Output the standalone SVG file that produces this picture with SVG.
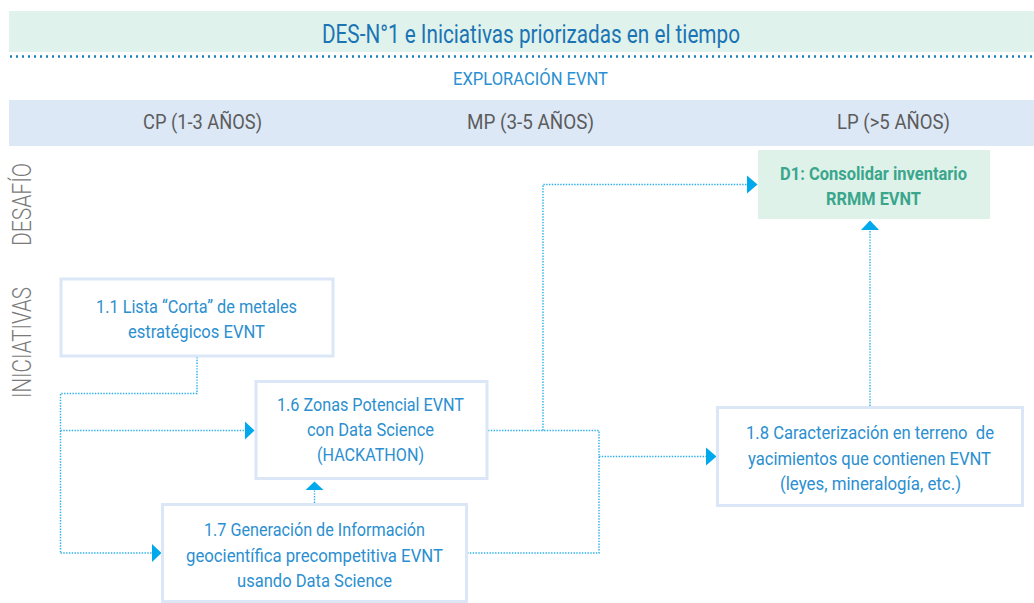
<svg xmlns="http://www.w3.org/2000/svg" width="1034" height="603" viewBox="0 0 1034 603">
  <style>
    text { font-family: Roboto, "Liberation Sans", sans-serif; text-anchor: middle; }
    .title { font-size: 25.5px; fill: #1b74b4; }
    .sub { font-size: 18px; fill: #2a90d2; }
    .term { font-size: 20px; fill: #5c5c5c; }
    .side { font-size: 26px; fill: #7a7a7a; font-weight: 300; }
    .box { fill: #ffffff; stroke: #dbe7f6; stroke-width: 3; }
    .btxt { font-size: 18.5px; fill: #2b8fd0; }
    .goal { fill: #dff2ea; }
    .gtxt { font-size: 18.5px; fill: #3aa68c; font-weight: 700; }
    .link { fill: none; stroke: #2ab0e8; stroke-width: 1.4; stroke-dasharray: 1.4 1.4; }
    .head { fill: #00a8ec; }
  </style>

  <!-- title band -->
  <g id="header">
    <rect x="9" y="11" width="1025" height="41" fill="#dff2ec"/>
    <text class="title" x="531" y="43" textLength="418" lengthAdjust="spacingAndGlyphs">DES-N°1 e Iniciativas priorizadas en el tiempo</text>
    <line x1="10" y1="56.5" x2="1034" y2="56.5" stroke="#1a80c0" stroke-width="2.4" stroke-dasharray="2 4"/>
    <text class="sub" x="530.5" y="85" textLength="155" lengthAdjust="spacingAndGlyphs">EXPLORACIÓN EVNT</text>
  </g>

  <!-- time horizon band -->
  <g id="horizons">
    <rect x="9" y="100" width="1025" height="46" fill="#dce8f6"/>
    <text class="term" x="202.5" y="129" textLength="119" lengthAdjust="spacingAndGlyphs">CP (1-3 AÑOS)</text>
    <text class="term" x="530.5" y="129" textLength="127" lengthAdjust="spacingAndGlyphs">MP (3-5 AÑOS)</text>
    <text class="term" x="893.5" y="129" textLength="113" lengthAdjust="spacingAndGlyphs">LP (&gt;5 AÑOS)</text>
  </g>

  <!-- row labels -->
  <g id="row-labels">
    <text class="side" transform="translate(31 204.5) rotate(-90)" textLength="83" lengthAdjust="spacingAndGlyphs">DESAFÍO</text>
    <text class="side" transform="translate(31 342.5) rotate(-90)" textLength="111" lengthAdjust="spacingAndGlyphs">INICIATIVAS</text>
  </g>

  <!-- connectors -->
  <g id="connectors">
    <!-- 1.1 to 1.6 and 1.7 -->
    <path class="link" d="M197 357 V393.5 H60.5 V553"/>
    <path class="link" d="M60.5 430.5 H246"/>
    <path class="link" d="M60.5 553 H153"/>
    <!-- 1.7 to 1.6 -->
    <path class="link" d="M314.5 503 V489"/>
    <!-- 1.6 / 1.7 to D1 and 1.8 -->
    <path class="link" d="M488 430.5 H599 V553 H468"/>
    <path class="link" d="M543 430.5 V184.5 H748"/>
    <path class="link" d="M599 456.5 H707"/>
    <!-- 1.8 to D1 -->
    <path class="link" d="M870 406 V229"/>
    <polygon class="head" points="245,421.5 254.5,430.5 245,439.5"/>
    <polygon class="head" points="152,544 161.5,553 152,562"/>
    <polygon class="head" points="305.5,490 314.5,481.5 323.5,490"/>
    <polygon class="head" points="747,175.5 757.5,184.5 747,193.5"/>
    <polygon class="head" points="706,447.5 716.5,456.5 706,465.5"/>
    <polygon class="head" points="861,230 870,220.5 879,230"/>
  </g>

  <!-- challenge -->
  <g id="d1">
    <rect class="goal" x="758" y="150" width="232" height="69"/>
    <text class="gtxt" x="873.5" y="180" textLength="187" lengthAdjust="spacingAndGlyphs">D1: Consolidar inventario</text>
    <text class="gtxt" x="873.5" y="205" textLength="95" lengthAdjust="spacingAndGlyphs">RRMM EVNT</text>
  </g>

  <!-- initiatives -->
  <g id="i11">
    <rect class="box" x="61" y="279" width="272" height="77"/>
    <text class="btxt" x="196.5" y="313" textLength="201" lengthAdjust="spacingAndGlyphs">1.1 Lista “Corta” de metales</text>
    <text class="btxt" x="196.5" y="338" textLength="137" lengthAdjust="spacingAndGlyphs">estratégicos EVNT</text>
  </g>

  <g id="i16">
    <rect class="box" x="256" y="381.5" width="231" height="97"/>
    <text class="btxt" x="370.5" y="411" textLength="187" lengthAdjust="spacingAndGlyphs">1.6 Zonas Potencial EVNT</text>
    <text class="btxt" x="370.5" y="436" textLength="127" lengthAdjust="spacingAndGlyphs">con Data Science</text>
    <text class="btxt" x="370.5" y="461" textLength="107" lengthAdjust="spacingAndGlyphs">(HACKATHON)</text>
  </g>

  <g id="i17">
    <rect class="box" x="162.5" y="504.5" width="304" height="97"/>
    <text class="btxt" x="314.5" y="536" textLength="221" lengthAdjust="spacingAndGlyphs">1.7 Generación de Información</text>
    <text class="btxt" x="314.5" y="562" textLength="257" lengthAdjust="spacingAndGlyphs">geocientífica precompetitiva EVNT</text>
    <text class="btxt" x="314.5" y="587" textLength="155" lengthAdjust="spacingAndGlyphs">usando Data Science</text>
  </g>

  <g id="i18">
    <rect class="box" x="717.5" y="407.5" width="305" height="98"/>
    <text class="btxt" x="870" y="439" textLength="248" lengthAdjust="spacingAndGlyphs" xml:space="preserve">1.8 Caracterización en terreno  de</text>
    <text class="btxt" x="869.5" y="465" textLength="243" lengthAdjust="spacingAndGlyphs">yacimientos que contienen EVNT</text>
    <text class="btxt" x="870.5" y="490" textLength="181" lengthAdjust="spacingAndGlyphs">(leyes, mineralogía, etc.)</text>
  </g>
</svg>
